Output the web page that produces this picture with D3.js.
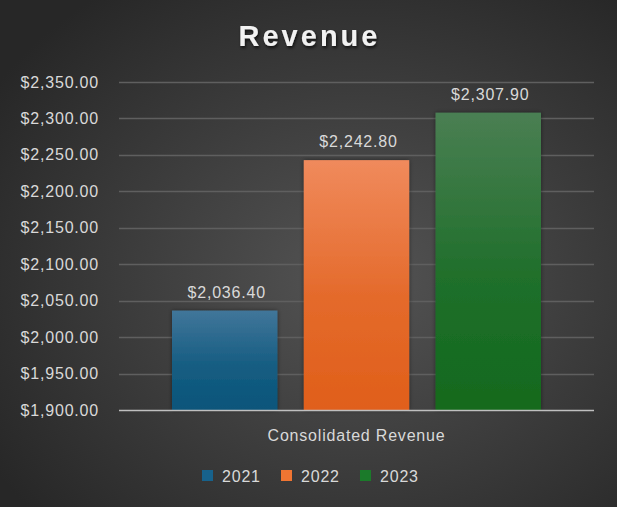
<!DOCTYPE html>
<html>
<head>
<meta charset="utf-8">
<script src="https://cdn.jsdelivr.net/npm/d3@7"></script>
<style>
  html, body { margin: 0; padding: 0; background: #2b2b2b; }
  svg { display: block; font-family: "Liberation Sans", Arial, sans-serif; }
</style>
</head>
<body>
<div id="chart"></div>
<script>
const years = ["2021", "2022", "2023"];
const revenue = [2036.4, 2242.8, 2307.9];
const category = "Consolidated Revenue";
const yTicks = [1900, 1950, 2000, 2050, 2100, 2150, 2200, 2250, 2300, 2350];
const barTop = ["#41769a", "#f08a5c", "#4a7f53"];
const barBottom = ["#08557a", "#e05f1a", "#126a1d"];
const swatch = ["#17628c", "#f07532", "#1b7a2a"];

const width = 617;
const height = 507;
const margin = { top: 82, right: 23, bottom: 97, left: 119 };
const fontSize = 16;
const spacing = 0.8;

const svg = d3.select("#chart")
  .append("svg")
  .attr("width", width)
  .attr("height", height);

const defs = svg.append("defs");

const bg = defs.append("radialGradient")
  .attr("id", "bg")
  .attr("cx", "58%").attr("cy", "55%").attr("r", "70%");
bg.append("stop").attr("offset", "0%").attr("stop-color", "#545454");
bg.append("stop").attr("offset", "100%").attr("stop-color", "#272727");

years.forEach((y, i) => {
  const g = defs.append("linearGradient")
    .attr("id", "bar" + i)
    .attr("x1", 0).attr("y1", 0).attr("x2", 0).attr("y2", 1);
  g.append("stop").attr("offset", "0%").attr("stop-color", barTop[i]);
  g.append("stop").attr("offset", "55%").attr("stop-color", d3.interpolateRgb(barTop[i], barBottom[i])(0.75));
  g.append("stop").attr("offset", "100%").attr("stop-color", barBottom[i]);
});

const shadow = defs.append("filter").attr("id", "shadow")
  .attr("x", "-20%").attr("y", "-20%").attr("width", "140%").attr("height", "140%");
shadow.append("feDropShadow")
  .attr("dx", 0).attr("dy", 0).attr("stdDeviation", 2)
  .attr("flood-color", "#000").attr("flood-opacity", 0.45);

const titleShadow = defs.append("filter").attr("id", "tshadow");
titleShadow.append("feDropShadow")
  .attr("dx", 1).attr("dy", 2).attr("stdDeviation", 1.5)
  .attr("flood-color", "#000").attr("flood-opacity", 0.7);

svg.append("rect")
  .attr("width", width).attr("height", height)
  .attr("fill", "url(#bg)");

const x0 = d3.scaleBand()
  .domain([category])
  .range([margin.left, width - margin.right]);

const x1 = d3.scaleBand()
  .domain(years)
  .range([x0(category) + 53, x0(category) + x0.bandwidth() - 53])
  .paddingInner(0.2);

const y = d3.scaleLinear()
  .domain([1900, 2350])
  .range([height - margin.bottom, margin.top]);

// gridlines
svg.append("g")
  .selectAll("line")
  .data(yTicks.slice(1))
  .join("line")
  .attr("x1", margin.left)
  .attr("x2", width - margin.right)
  .attr("y1", d => Math.round(y(d)) + 0.5)
  .attr("y2", d => Math.round(y(d)) + 0.5)
  .attr("stroke", "#5f5f5f")
  .attr("stroke-width", 1.5);

const fmt = d3.format("$,.2f");

// y axis labels
svg.append("g")
  .selectAll("text")
  .data(yTicks)
  .join("text")
  .attr("x", 99)
  .attr("y", d => y(d))
  .attr("dy", "0.35em")
  .attr("text-anchor", "end")
  .attr("fill", "#d9d9d9")
  .attr("font-size", fontSize)
  .attr("letter-spacing", spacing)
  .text(d => fmt(d));

// bars
svg.append("g")
  .selectAll("rect")
  .data(revenue)
  .join("rect")
  .attr("x", (d, i) => x1(years[i]))
  .attr("y", d => y(d))
  .attr("width", x1.bandwidth())
  .attr("height", d => y(1900) - y(d))
  .attr("fill", (d, i) => `url(#bar${i})`)
  .attr("filter", "url(#shadow)");

// value labels
svg.append("g")
  .selectAll("text")
  .data(revenue)
  .join("text")
  .attr("x", (d, i) => x1(years[i]) + x1.bandwidth() / 2 + 2)
  .attr("y", d => y(d) - 13)
  .attr("text-anchor", "middle")
  .attr("fill", "#d9d9d9")
  .attr("font-size", fontSize)
  .attr("letter-spacing", spacing)
  .text(d => fmt(d));

// baseline
svg.append("line")
  .attr("x1", margin.left)
  .attr("x2", width - margin.right)
  .attr("y1", y(1900) + 0.5)
  .attr("y2", y(1900) + 0.5)
  .attr("stroke", "#bfbfbf")
  .attr("stroke-width", 1.5);

// category label
svg.append("text")
  .attr("x", x0(category) + x0.bandwidth() / 2)
  .attr("y", 441)
  .attr("text-anchor", "middle")
  .attr("fill", "#d9d9d9")
  .attr("font-size", fontSize)
  .attr("letter-spacing", spacing)
  .text(category);

// title
svg.append("text")
  .attr("x", width / 2 + 1)
  .attr("y", 46)
  .attr("text-anchor", "middle")
  .attr("fill", "#f2f2f2")
  .attr("font-size", 29)
  .attr("font-weight", "bold")
  .attr("letter-spacing", 3)
  .attr("filter", "url(#tshadow)")
  .text("Revenue");

// legend
const legendX = [202, 281, 360];
const legend = svg.append("g")
  .selectAll("g")
  .data(years)
  .join("g")
  .attr("transform", (d, i) => `translate(${legendX[i]},476)`);

legend.append("rect")
  .attr("x", 0).attr("y", -6)
  .attr("width", 11).attr("height", 11)
  .attr("fill", (d, i) => swatch[i]);

legend.append("text")
  .attr("x", 20)
  .attr("y", 0)
  .attr("dy", "0.35em")
  .attr("fill", "#d9d9d9")
  .attr("font-size", fontSize)
  .attr("letter-spacing", spacing)
  .text(d => d);
</script>
</body>
</html>
